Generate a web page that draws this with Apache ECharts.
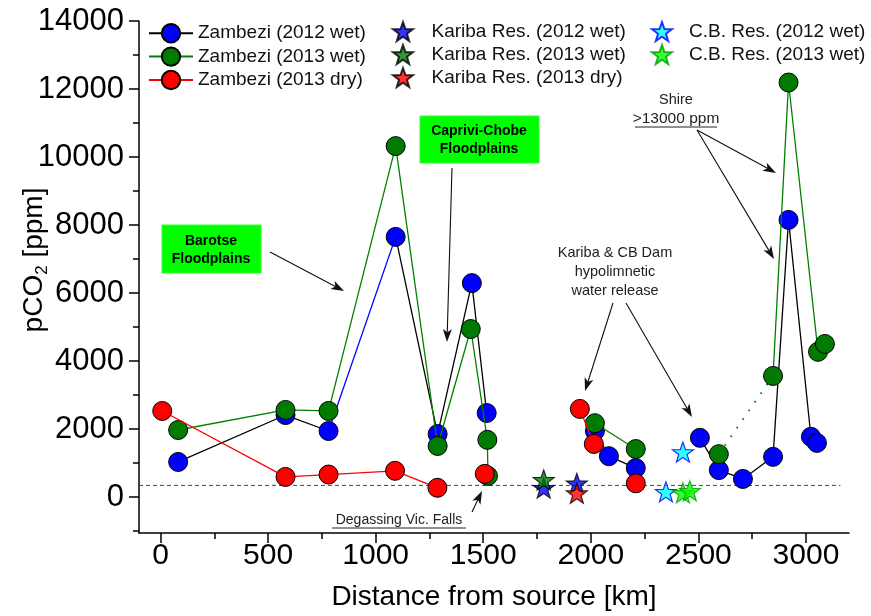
<!DOCTYPE html>
<html>
<head>
<meta charset="utf-8">
<script src="https://cdn.jsdelivr.net/npm/echarts@6/dist/echarts.min.js"></script>
<style>
html,body{margin:0;padding:0;background:#fff;}
#c{width:871px;height:616px;}
</style>
</head>
<body>
<div id="c"></div>
<script>
// ---- data (distance from source [km], pCO2 [ppm]); null = line break ----
const z2012wetKm  = [82, 581, 781, null, 1093, 1288, 1447, 1516, null, 2019, 2084, 2209, null, 2507, 2595, 2707, 2847, 2919, 3023, 3051];
const z2012wetCO2 = [1030, 2410, 1940, null, 7650, 1850, 6290, 2470, null, 1940, 1200, 850, null, 1740, 790, 530, 1180, 8150, 1770, 1590];
// blue-coloured segment of the 2012 wet line
const z2012segKm  = [781, 1093];
const z2012segCO2 = [1940, 7650];

const z2013wetKm  = [82, 581, 781, 1093, 1288, 1442, 1519, 1522, null, 2019, 2209, null, 2595, null, 2847, 2919, 3056, 3088];
const z2013wetCO2 = [1970, 2560, 2530, 10320, 1500, 4940, 1680, 620, null, 2170, 1410, null, 1260, null, 3560, 12190, 4270, 4500];
// dotted segment of the 2013 wet line
const z2013dotKm  = [2595, 2847];
const z2013dotCO2 = [1260, 3560];

const z2013dryKm  = [8, 581, 781, 1090, 1287, null, 1507, null, 1949, 2014, null, 2209];
const z2013dryCO2 = [2530, 590, 660, 770, 270, null, 680, null, 2590, 1560, null, 400];

const kar2012wetKm = [1781, 1935];
const kar2012wetCO2 = [265, 400];
const kar2013wetKm = [1781];
const kar2013wetCO2 = [500];
const kar2013dryKm = [1935];
const kar2013dryCO2 = [110];
const cb2012wetKm = [2428, 2349];
const cb2012wetCO2 = [1320, 150];
const cb2013wetKm = [2428, 2460];
const cb2013wetCO2 = [120, 180];

const atmKm = [-100, 3160];
const atmCO2 = [340, 340];

const yMajor = [0, 2000, 4000, 6000, 8000, 10000, 12000, 14000];
const yMinor = [-1000, 1000, 3000, 5000, 7000, 9000, 11000, 13000];
const xMajor = [0, 500, 1000, 1500, 2000, 2500, 3000];
const xMinor = [250, 750, 1250, 1750, 2250, 2750];

// ---- helpers ----
function pairs(xs, ys){ return xs.map((x,i)=> (x===null ? [null,'-'] : [x, ys[i]])); }
const FONT = '"Liberation Sans", Arial, sans-serif';
const STAR = 'path://M0,-10 L2.35,-3.24 L9.51,-3.09 L3.8,1.24 L5.88,8.09 L0,4 L-5.88,8.09 L-3.8,1.24 L-9.51,-3.09 L-2.35,-3.24 Z';

function arrow(x1,y1,x2,y2){
  const dx=x2-x1, dy=y2-y1, L=Math.hypot(dx,dy), ux=dx/L, uy=dy/L;
  const hl=13, hw=4.5, bx=x2-ux*hl, by=y2-uy*hl, px=-uy, py=ux;
  const nx=x2-ux*hl*0.75, ny=y2-uy*hl*0.75;
  return [
    {type:'line', shape:{x1:x1,y1:y1,x2:nx,y2:ny}, style:{stroke:'#111', lineWidth:1.1}, z:50},
    {type:'polygon', shape:{points:[[x2,y2],[bx+px*hw,by+py*hw],[nx,ny],[bx-px*hw,by-py*hw]]}, style:{fill:'#111'}, z:50}
  ];
}
function txt(x,y,t,size,bold){
  return {type:'text', x:x, y:y, style:{text:t, font:(bold?'bold ':'')+size+'px '+FONT, fill:bold?'#000':'#222', align:'center', verticalAlign:'middle'}, z:50};
}
function uline(x1,x2,y){
  return {type:'line', shape:{x1:x1,y1:y,x2:x2,y2:y}, style:{stroke:'#222', lineWidth:1}, z:50};
}

const graphics = [].concat(
  [{type:'rect', shape:{x:162,y:225,width:99,height:48}, style:{fill:'#00ff00', stroke:'#33ff33', lineWidth:1}, z:40},
   txt(211,241,'Barotse',14,true), txt(211,259,'Floodplains',14,true)],
  arrow(270,252,344,291),
  [{type:'rect', shape:{x:420,y:116,width:119,height:47}, style:{fill:'#00ff00', stroke:'#33ff33', lineWidth:1}, z:40},
   txt(479,131,'Caprivi-Chobe',14,true), txt(479,149,'Floodplains',14,true)],
  arrow(452,168,447,342),
  [txt(676,100,'Shire',14.5,false), txt(676,119,'>13000 ppm',15.5,false), uline(635,717,127)],
  arrow(697,130,776,173),
  arrow(697,130,774,259),
  [txt(615,253,'Kariba & CB Dam',14.5,false), txt(615,272,'hypolimnetic',14.5,false), txt(615,291,'water release',14.5,false)],
  arrow(613,303,585,391),
  arrow(626,303,692,417),
  [txt(399,520,'Degassing Vic. Falls',14,false), uline(332,466,528)],
  arrow(472,512,482,491)
);

const circ = (fill)=>({color:fill, borderColor:'#000', borderWidth:1});
const star = (fill, border)=>({color:fill, borderColor:border, borderWidth:1.2});
const plain = v => String(v);

const option = {
  backgroundColor:'#fff',
  animation:false,
  textStyle:{fontFamily:FONT},
  grid:{left:139, right:22, top:21, bottom:83, containLabel:false, outerBoundsMode:'none'},
  xAxis:[
    {type:'value', min:-100, max:3200,
     name:'Distance from source [km]', nameLocation:'middle', nameGap:50, nameMoveOverlap:false,
     nameTextStyle:{fontSize:28, color:'#000', fontFamily:FONT},
     axisLine:{show:true, onZero:false, lineStyle:{color:'#000', width:1.5}},
     axisTick:{show:true, inside:false, length:10, customValues:xMajor, lineStyle:{color:'#000', width:1.5}},
     axisLabel:{customValues:xMajor, formatter:plain, fontSize:30, color:'#000', margin:8, fontFamily:'"Liberation Sans Narrow", "Liberation Sans", Arial'},
     splitLine:{show:false}},
    {type:'value', min:-100, max:3200, position:'bottom',
     axisLine:{show:false, onZero:false}, axisLabel:{show:false}, splitLine:{show:false},
     axisTick:{show:true, length:6, customValues:xMinor, lineStyle:{color:'#000', width:1.5}}}
  ],
  yAxis:[
    {type:'value', min:-1060, max:14000,
     name:'{a|pCO}{s|2}{a| [ppm]}', nameLocation:'middle', nameGap:88, nameRotate:90, nameMoveOverlap:false,
     nameTextStyle:{color:'#000', padding:[0,0,0,34], rich:{a:{fontSize:28, fontFamily:FONT, color:'#000', lineHeight:34, verticalAlign:'middle'}, s:{fontSize:17, fontFamily:FONT, color:'#000', lineHeight:18, verticalAlign:'bottom'}}},
     axisLine:{show:true, onZero:false, lineStyle:{color:'#000', width:1.5}},
     axisTick:{show:true, inside:false, length:10, customValues:yMajor, lineStyle:{color:'#000', width:1.5}},
     axisLabel:{customValues:yMajor, formatter:plain, fontSize:31, color:'#000', margin:15},
     splitLine:{show:false}},
    {type:'value', min:-1060, max:14000, position:'left',
     axisLine:{show:false, onZero:false}, axisLabel:{show:false}, splitLine:{show:false},
     axisTick:{show:true, length:6, customValues:yMinor, lineStyle:{color:'#000', width:1.5}}}
  ],
  legend:[
    {left:148, top:23, padding:0, orient:'vertical', itemWidth:44, itemHeight:23, itemGap:3,
     textStyle:{fontSize:19, color:'#111', fontFamily:FONT},
     data:['Zambezi (2012 wet)','Zambezi (2013 wet)','Zambezi (2013 dry)']},
    {left:392, top:21, padding:0, orient:'vertical', itemWidth:47, itemHeight:19, itemGap:2,
     textStyle:{fontSize:19, color:'#111', fontFamily:FONT},
     data:['Kariba Res. (2012 wet)','Kariba Res. (2013 wet)','Kariba Res. (2013 dry)']},
    {left:651, top:21, padding:0, orient:'vertical', itemWidth:44, itemHeight:19, itemGap:2,
     textStyle:{fontSize:19, color:'#111', fontFamily:FONT},
     data:['C.B. Res. (2012 wet)','C.B. Res. (2013 wet)']}
  ],
  series:[
    {name:'atm', type:'line', data:pairs(atmKm, atmCO2), symbol:'none', silent:true, z:1,
     lineStyle:{color:'#444', width:1, type:[4,3]}},
    {name:'Zambezi (2012 wet)', type:'line', data:pairs(z2012wetKm, z2012wetCO2), connectNulls:false,
     symbol:'circle', symbolSize:19, itemStyle:circ('#0000ff'), lineStyle:{color:'#000', width:1.3}, z:3},
    {name:'seg2012', type:'line', data:pairs(z2012segKm, z2012segCO2), symbol:'none',
     lineStyle:{color:'#0000ff', width:1.3}, z:2},
    {name:'Zambezi (2013 wet)', type:'line', data:pairs(z2013wetKm, z2013wetCO2), connectNulls:false,
     symbol:'circle', symbolSize:19, itemStyle:circ('#007a00'), lineStyle:{color:'#008000', width:1.3}, z:4},
    {name:'dot2013', type:'line', data:pairs(z2013dotKm, z2013dotCO2), symbol:'none',
     lineStyle:{color:'#008000', width:2, type:[1.5,9]}, z:2},
    {name:'Zambezi (2013 dry)', type:'line', data:pairs(z2013dryKm, z2013dryCO2), connectNulls:false,
     symbol:'circle', symbolSize:19, itemStyle:circ('#ff0000'), lineStyle:{color:'#ff0000', width:1.3}, z:5},
    {name:'Kariba Res. (2012 wet)', type:'scatter', data:pairs(kar2012wetKm, kar2012wetCO2),
     symbol:STAR, symbolSize:21, symbolKeepAspect:true, itemStyle:star('#0000ff','#000'), z:6},
    {name:'Kariba Res. (2013 wet)', type:'scatter', data:pairs(kar2013wetKm, kar2013wetCO2),
     symbol:STAR, symbolSize:21, symbolKeepAspect:true, itemStyle:star('#007a00','#000'), z:7},
    {name:'Kariba Res. (2013 dry)', type:'scatter', data:pairs(kar2013dryKm, kar2013dryCO2),
     symbol:STAR, symbolSize:21, symbolKeepAspect:true, itemStyle:star('#ff0000','#000'), z:8},
    {name:'C.B. Res. (2012 wet)', type:'scatter', data:pairs(cb2012wetKm, cb2012wetCO2),
     symbol:STAR, symbolSize:21, symbolKeepAspect:true, itemStyle:star('#00ffff','#0000ff'), z:6},
    {name:'C.B. Res. (2013 wet)', type:'scatter', data:pairs(cb2013wetKm, cb2013wetCO2),
     symbol:STAR, symbolSize:21, symbolKeepAspect:true, itemStyle:star('#00ff00','#00a000'), z:7}
  ],
  graphic: graphics
};

const chart = echarts.init(document.getElementById('c'), null, {renderer:'canvas'});
chart.setOption(option);
</script>
</body>
</html>
